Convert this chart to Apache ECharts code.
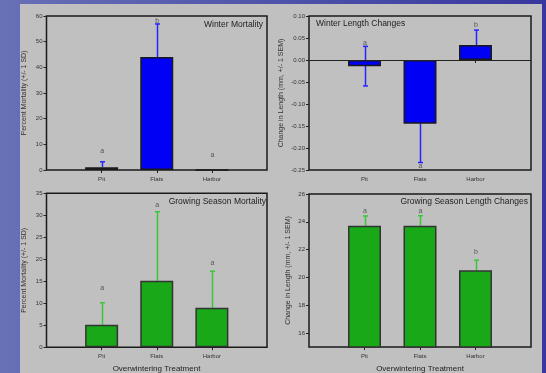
<!DOCTYPE html>
<html><head><meta charset="utf-8">
<script src="https://cdn.jsdelivr.net/npm/echarts@6/dist/echarts.min.js"></script>
<style>html,body{margin:0;padding:0;}#c{width:546px;height:373px;}</style>
</head><body><div id="c"></div>
<script>
// ---- data ----
var categories = ['Pit', 'Flats', 'Harbor'];
var winterMortality = [1.1, 44.0, 0];
var winterMortalitySD = [2.1, 12.9, 0];
var winterMortalityLetters = ['a', 'b', 'a'];
var winterMortalityLetterY = [7.4, 58.2, 5.8];

var winterLength = [-0.014, -0.145, 0.034];
var winterLengthSEM = [0.045, 0.088, 0.034];
var winterLengthLetters = ['a', 'a', 'b'];
var winterLengthLetterY = [0.039, -0.240, 0.080];

var growMortality = [5.1, 15.1, 9.0];
var growMortalitySD = [5.0, 15.7, 8.3];
var growMortalityLetters = ['a', 'a', 'a'];
var growMortalityLetterY = [13.5, 32.3, 19.2];

var growLength = [23.72, 23.72, 20.52];
var growLengthSEM = [0.70, 0.72, 0.72];
var growLengthLetters = ['a', 'a', 'b'];
var growLengthLetterY = [24.78, 24.78, 21.8];

var growLengthTicks = [16, 18, 20, 22, 24, 26];

// ---- build ----
var FONT = 'Liberation Sans';
var cats = [''].concat(categories).concat(['']);
function padded(arr) { return ['-'].concat(arr).concat(['-']); }

var grids = [
  {left: 46.5, top: 16, width: 220.5, height: 154},
  {left: 309, top: 16, width: 222, height: 154},
  {left: 46.5, top: 193.3, width: 220.5, height: 154},
  {left: 309, top: 194, width: 222, height: 153}
];
grids.forEach(function (g) { g.show = true; g.borderColor = '#1a1a1a'; g.borderWidth = 1.5; g.backgroundColor = 'transparent'; });

function xAx(i) {
  return {
    type: 'category', gridIndex: i, data: cats, boundaryGap: false,
    axisLine: {show: false},
    axisTick: {show: true, length: 3, inside: false, lineStyle: {color: '#222'},
      interval: function (idx, v) { return v !== ''; }},
    axisLabel: {fontFamily: FONT, fontSize: 6, color: '#333', margin: 6, interval: 0},
    splitLine: {show: false}
  };
}
var yNames = ['Percent Mortality (+/- 1 SD)', 'Change in Length (mm, +/- 1 SEM)',
              'Percent Mortality (+/- 1 SD)', 'Change in Length (mm, +/- 1 SEM)'];
var yGaps = [19, 24, 19, 17];
function yAx(i, min, max, interval, fmt, custom) {
  var a = {
    type: 'value', gridIndex: i, min: min, max: max,
    name: yNames[i], nameLocation: 'middle', nameGap: yGaps[i],
    nameTextStyle: {fontFamily: FONT, fontSize: 7, color: '#333'},
    axisLine: {show: false},
    axisTick: {show: true, length: 3, lineStyle: {color: '#222'}},
    axisLabel: {fontFamily: FONT, fontSize: 6, color: '#333', margin: 4, formatter: fmt},
    splitLine: {show: false}
  };
  if (interval) a.interval = interval;
  if (custom) { a.axisLabel.customValues = custom; a.axisTick.customValues = custom; }
  return a;
}

function barSeries(i, vals, color, border, zeroLine) {
  var s = {
    type: 'bar', xAxisIndex: i, yAxisIndex: i, data: padded(vals),
    barWidth: 33, z: 3, silent: true,
    itemStyle: {color: color, borderColor: border, borderWidth: 1.5}
  };
  if (zeroLine) {
    s.markLine = {silent: true, symbol: ['none', 'none'], label: {show: false},
      lineStyle: {color: '#222', width: 1, type: 'solid'}, data: [{yAxis: 0}]};
  }
  return s;
}
function errSeries(i, vals, errs, color, twoSided) {
  var d = [];
  vals.forEach(function (v, k) {
    if (errs[k] > 0) d.push([k + 1, twoSided ? v - errs[k] : v, v + errs[k], twoSided ? 1 : 0]);
  });
  return {
    type: 'custom', xAxisIndex: i, yAxisIndex: i, z: 2, silent: true, data: d, clip: true,
    renderItem: function (params, api) {
      var lo = api.coord([api.value(0), api.value(1)]);
      var hi = api.coord([api.value(0), api.value(2)]);
      var x = Math.round(lo[0]) + 0.5, w = 2.5;
      var st = {stroke: color, lineWidth: 1.5};
      var ch = [
        {type: 'line', shape: {x1: x, y1: lo[1], x2: x, y2: hi[1]}, style: st},
        {type: 'line', shape: {x1: x - w, y1: hi[1], x2: x + w, y2: hi[1]}, style: st}
      ];
      if (api.value(3)) ch.push({type: 'line', shape: {x1: x - w, y1: lo[1], x2: x + w, y2: lo[1]}, style: st});
      return {type: 'group', children: ch};
    }
  };
}
function letterSeries(i, letters, ys) {
  var d = letters.map(function (l, k) { return [k + 1, ys[k], l]; });
  return {
    type: 'custom', xAxisIndex: i, yAxisIndex: i, z: 4, silent: true, data: d,
    renderItem: function (params, api) {
      var p = api.coord([api.value(0), api.value(1)]);
      return {type: 'text', x: p[0] + 0.5, y: p[1],
        style: {text: d[params.dataIndex][2], fontFamily: FONT, fontSize: 7, fill: '#555',
                align: 'center', verticalAlign: 'middle'}};
    }
  };
}

var blue = '#0000f5', blueErr = '#2424ff', green = '#18a818', greenErr = '#38c838';
var titleStyle = {fontFamily: FONT, fontSize: 8.5, color: '#222', fontWeight: 'normal'};
var axTitle = {fontFamily: FONT, fontSize: 8, color: '#222', fontWeight: 'normal'};

var option = {
  animation: false,
  backgroundColor: {type: 'linear', x: 0, y: 0, x2: 1, y2: 0,
    colorStops: [{offset: 0, color: '#6870b6'}, {offset: 1, color: '#37379e'}]},
  graphic: [{type: 'rect', shape: {x: 20, y: 4, width: 522, height: 369}, style: {fill: '#c0c0c0'}, z: -10, silent: true}],
  title: [
    {text: 'Winter Mortality', right: 283, top: 20, padding: 0, textStyle: titleStyle},
    {text: 'Winter Length Changes', left: 316, top: 19, padding: 0, textStyle: titleStyle},
    {text: 'Growing Season Mortality', right: 280, top: 197, padding: 0, textStyle: titleStyle},
    {text: 'Growing Season Length Changes', right: 18, top: 197, padding: 0, textStyle: titleStyle},
    {text: 'Overwintering Treatment', left: 156.5, top: 365, padding: 0, textAlign: 'center', textStyle: axTitle},
    {text: 'Overwintering Treatment', left: 420, top: 365, padding: 0, textAlign: 'center', textStyle: axTitle}
  ],
  grid: grids,
  xAxis: [xAx(0), xAx(1), xAx(2), xAx(3)],
  yAxis: [
    yAx(0, 0, 60, 10),
    yAx(1, -0.25, 0.10, 0.05, function (v) { return v.toFixed(2); }),
    yAx(2, 0, 35, 5),
    yAx(3, 15, 26, null, null, growLengthTicks)
  ],
  series: [
    barSeries(0, winterMortality, blue, '#1a1a1a'),
    errSeries(0, winterMortality, winterMortalitySD, blueErr, false),
    letterSeries(0, winterMortalityLetters, winterMortalityLetterY),
    barSeries(1, winterLength, blue, '#1a1a1a', true),
    errSeries(1, winterLength, winterLengthSEM, blueErr, true),
    letterSeries(1, winterLengthLetters, winterLengthLetterY),
    barSeries(2, growMortality, green, '#333'),
    errSeries(2, growMortality, growMortalitySD, greenErr, false),
    letterSeries(2, growMortalityLetters, growMortalityLetterY),
    barSeries(3, growLength, green, '#333'),
    errSeries(3, growLength, growLengthSEM, greenErr, false),
    letterSeries(3, growLengthLetters, growLengthLetterY)
  ]
};
var chart = echarts.init(document.getElementById('c'), null, {renderer: 'canvas'});
chart.setOption(option);
</script></body></html>
